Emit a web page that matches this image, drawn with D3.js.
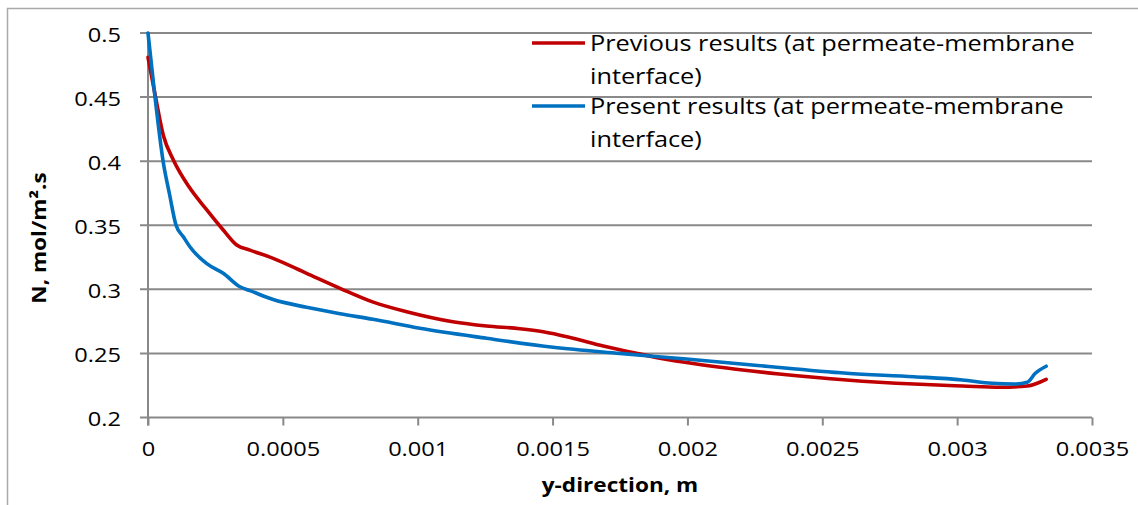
<!DOCTYPE html>
<html>
<head>
<meta charset="utf-8">
<script src="https://cdn.jsdelivr.net/npm/d3@7"></script>
<style>
  html, body { margin: 0; padding: 0; background: #fff; }
  svg { display: block; }
  text { font-family: "Open Sans", "Noto Sans", sans-serif; fill: #000; }
</style>
</head>
<body>
<svg id="chart" width="1138" height="505"></svg>
<script>
// Flux along the channel, N (mol/m².s) versus y position (m)
const xTickValues = [0, 0.0005, 0.001, 0.0015, 0.002, 0.0025, 0.003, 0.0035];
const xTickLabels = ["0", "0.0005", "0.001", "0.0015", "0.002", "0.0025", "0.003", "0.0035"];
const yTickValues = [0.2, 0.25, 0.3, 0.35, 0.4, 0.45, 0.5];
const yTickLabels = ["0.2", "0.25", "0.3", "0.35", "0.4", "0.45", "0.5"];

const previousY = [0, 0.000028, 0.000057, 0.000094, 0.000152, 0.000218, 0.000279, 0.000329, 0.000378,
  0.000464, 0.000588, 0.000712, 0.000835, 0.000959, 0.00113, 0.001255, 0.001379, 0.001465, 0.001564,
  0.001688, 0.001811, 0.001935, 0.002058, 0.00218, 0.00234, 0.00259, 0.00284, 0.00302, 0.00316,
  0.00326, 0.00333];
const previousN = [0.481, 0.45, 0.420, 0.401, 0.380, 0.362, 0.3463, 0.3346, 0.3306,
  0.3242, 0.3125, 0.3008, 0.290, 0.2825, 0.2747, 0.2714, 0.2693, 0.2669, 0.2625,
  0.2558, 0.2501, 0.2449, 0.241, 0.2377, 0.2340, 0.2293, 0.2261, 0.2246, 0.2236,
  0.2246, 0.2298];

const presentY = [0, 0.000026, 0.000056, 0.000080, 0.000104, 0.000131, 0.000156, 0.000218, 0.000279,
  0.000341, 0.000378, 0.000464, 0.000588, 0.000712, 0.000834, 0.001008, 0.001255, 0.001502, 0.001749,
  0.001996, 0.00224, 0.00259, 0.00284, 0.00302, 0.00313, 0.00321, 0.00326, 0.00329, 0.00333];
const presentN = [0.5, 0.45, 0.4, 0.374, 0.35, 0.341, 0.333, 0.320, 0.3125,
  0.302, 0.299, 0.292, 0.286, 0.281, 0.2766, 0.2696, 0.2618, 0.2548, 0.250,
  0.2456, 0.241, 0.2345, 0.2318, 0.2293, 0.2267, 0.2261, 0.2275, 0.2345, 0.240];

const seriesNames = [
  ["Previous results (at permeate-membrane", "interface)"],
  ["Present results (at permeate-membrane", "interface)"]
];
const seriesColors = ["#C00000", "#0070C0"];

const svg = d3.select("#chart");
const plot = { left: 148, right: 1092, top: 33, bottom: 417.5 };
const stretch = 1.18;        // horizontal widening of the tick labels
const stretchLegend = 1.15;  // of the legend entries
const stretchBold = 1.13;    // and of the bold axis titles

const x = d3.scaleLinear().domain([0, 0.0035]).range([plot.left, plot.right]);
const y = d3.scaleLinear().domain([0.2, 0.5]).range([plot.bottom, plot.top]);

// outer chart frame
svg.append("path")
  .attr("d", `M7.5,${505 + 5} V8.5 H${1138 + 5}`)
  .attr("fill", "none")
  .attr("stroke", "#a9a9a9")
  .attr("stroke-width", 1.5);

const gridColor = "#898989";

// horizontal gridlines with their left tick stubs
svg.append("g")
  .selectAll("line")
  .data(yTickValues)
  .join("line")
  .attr("x1", plot.left - 8)
  .attr("x2", plot.right)
  .attr("y1", d => y(d))
  .attr("y2", d => y(d))
  .attr("stroke", gridColor)
  .attr("stroke-width", 2);

// vertical axis line
svg.append("line")
  .attr("x1", x(0)).attr("x2", x(0))
  .attr("y1", plot.top).attr("y2", plot.bottom + 8)
  .attr("stroke", gridColor).attr("stroke-width", 2);

// bottom axis ticks and labels
const xAxis = d3.axisBottom(x)
  .tickValues(xTickValues)
  .tickFormat((d, i) => xTickLabels[i])
  .tickSize(8)
  .tickPadding(16);
const gx = svg.append("g")
  .attr("transform", `translate(0,${plot.bottom})`)
  .call(xAxis);
gx.select(".domain").remove();
gx.selectAll(".tick line").attr("stroke", gridColor).attr("stroke-width", 2);
gx.selectAll(".tick text")
  .attr("font-size", 20)
  .attr("font-family", "Open Sans")
  .attr("transform", `scale(${stretch},1)`)
  .attr("fill", "#000");

// left axis labels
const yAxis = d3.axisLeft(y)
  .tickValues(yTickValues)
  .tickFormat((d, i) => yTickLabels[i])
  .tickSize(0)
  .tickPadding(27 / stretch);
const gy = svg.append("g")
  .attr("transform", `translate(${plot.left},0)`)
  .call(yAxis);
gy.select(".domain").remove();
gy.selectAll(".tick text")
  .attr("font-size", 20)
  .attr("font-family", "Open Sans")
  .attr("transform", `scale(${stretch},1)`)
  .attr("dy", "0.4em")
  .attr("fill", "#000");

// data lines
const line = d3.line()
  .x(d => x(d[0]))
  .y(d => y(d[1]))
  .curve(d3.curveMonotoneX);

const series = [
  d3.zip(previousY, previousN),
  d3.zip(presentY, presentN)
];

svg.append("g")
  .selectAll("path")
  .data(series)
  .join("path")
  .attr("d", line)
  .attr("fill", "none")
  .attr("stroke", (d, i) => seriesColors[i])
  .attr("stroke-width", 3.6)
  .attr("stroke-linecap", "round")
  .attr("stroke-linejoin", "round");

// legend
const legend = svg.append("g");
const legendRows = [43, 106];
seriesNames.forEach((lines, i) => {
  const cy = legendRows[i];
  legend.append("line")
    .attr("x1", 532).attr("x2", 585)
    .attr("y1", cy).attr("y2", cy)
    .attr("stroke", seriesColors[i])
    .attr("stroke-width", 3.6);
  const t = legend.append("text")
    .attr("transform", `translate(590,${cy}) scale(${stretchLegend},1)`)
    .attr("font-size", 22);
  lines.forEach((s, j) => {
    t.append("tspan")
      .attr("x", 0)
      .attr("y", j * 33)
      .attr("dy", "0.35em")
      .text(s);
  });
});

// axis titles
svg.append("text")
  .attr("transform", `translate(${(plot.left + plot.right) / 2},485) scale(${stretchBold},1)`)
  .attr("dy", "0.35em")
  .attr("text-anchor", "middle")
  .attr("font-size", 20)
  .attr("font-weight", "bold")
  .text("y-direction, m");

svg.append("text")
  .attr("transform", `translate(39,238) rotate(-90) scale(${stretchBold},1)`)
  .attr("dy", "0.35em")
  .attr("text-anchor", "middle")
  .attr("font-size", 20)
  .attr("font-weight", "bold")
  .text("N, mol/m².s");
</script>
</body>
</html>
